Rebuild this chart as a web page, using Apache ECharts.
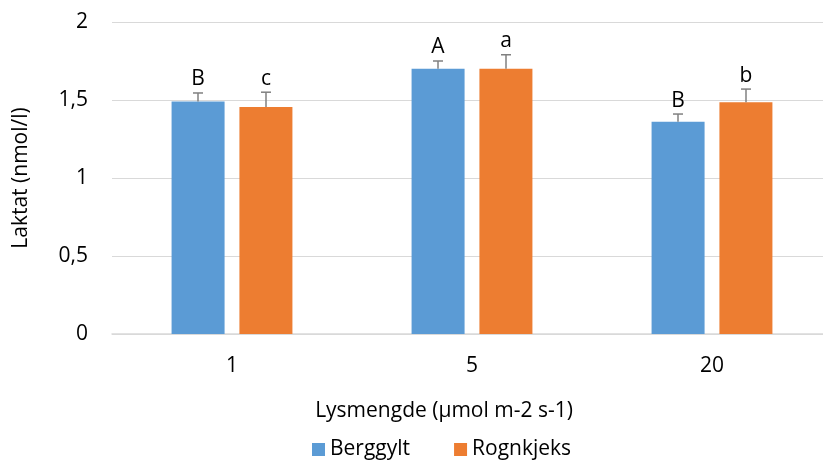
<!DOCTYPE html>
<html>
<head>
<meta charset="utf-8">
<script src="https://cdn.jsdelivr.net/npm/echarts@6/dist/echarts.min.js"></script>
<style>
  html, body { margin: 0; padding: 0; background: #fff; }
  #chart { width: 823px; height: 462px; }
</style>
</head>
<body>
<div id="chart"></div>
<script>
  // data
  var categories = ['1', '5', '20']
  var berggylt = [1.49, 1.70, 1.36]
  var rognkjeks = [1.455, 1.70, 1.485]
  var berggyltErr = [0.055, 0.05, 0.05]
  var rognkjeksErr = [0.095, 0.09, 0.085]
  var berggyltLetters = ['B', 'A', 'B']
  var rognkjeksLetters = ['c', 'a', 'b']
  var yTicks = [0, 0.5, 1, 1.5, 2]

  var font = '"Open Sans", sans-serif'
  var fs = 21
  var blue = '#5B9BD5'
  var orange = '#ED7D31'

  function errData(values, errs, letters) {
    return values.map(function (v, i) {
      return [i, v, errs[i], letters[i]]
    })
  }

  function letterFor(seriesIndex, i) {
    return seriesIndex === 2 ? berggyltLetters[i] : rognkjeksLetters[i]
  }

  // 误差线 + 字母
  function errRender(offset) {
    return function (params, api) {
      var idx = api.value(0)
      var v = api.value(1)
      var e = api.value(2)
      var letter = letterFor(params.seriesIndex, params.dataIndex)
      var base = api.coord([idx, v])
      var top = api.coord([idx, v + e])
      var x = base[0] + offset
      var style = { stroke: '#808080', lineWidth: 1.5 }
      return {
        type: 'group',
        children: [
          { type: 'line', shape: { x1: x, y1: base[1], x2: x, y2: top[1] }, style: style },
          { type: 'line', shape: { x1: x - 5, y1: top[1], x2: x + 5, y2: top[1] }, style: style },
          {
            type: 'text',
            x: x, y: top[1] - 3,
            style: {
              text: letter, fill: '#000', font: fs + 'px ' + font,
              textAlign: 'center', textVerticalAlign: 'bottom'
            }
          }
        ]
      }
    }
  }

  var chart = echarts.init(document.getElementById('chart'))
  var option = {
    animation: false,
    textStyle: { fontFamily: font },
    grid: { left: 112, top: 22, width: 720, height: 312, outerBoundsMode: 'none', containLabel: false },
    legend: {
      data: ['Berggylt', 'Rognkjeks'],
      left: 307, top: 434,
      itemWidth: 13, itemHeight: 13, itemGap: 44,
      icon: 'rect',
      textStyle: { fontSize: fs, color: '#000', fontFamily: font }
    },
    graphic: [{
      type: 'text',
      x: 444, y: 411,
      style: {
        text: 'Lysmengde (µmol m-2 s-1)', fill: '#000', font: fs + 'px ' + font,
        textAlign: 'center', textVerticalAlign: 'middle'
      }
    }],
    xAxis: {
      type: 'category',
      data: categories,
      axisLine: { lineStyle: { color: '#d9d9d9', width: 1.5 } },
      axisTick: { show: false },
      axisLabel: { color: '#000', fontSize: fs, margin: 22, fontFamily: font }
    },
    yAxis: {
      type: 'value',
      min: yTicks[0], max: yTicks[yTicks.length - 1], interval: 0.5,
      name: 'Laktat (nmol/l)',
      nameLocation: 'middle', nameGap: 80, nameRotate: 90,
      nameTextStyle: { color: '#000', fontSize: fs, fontFamily: font },
      axisLine: { show: false },
      axisTick: { show: false },
      splitLine: { lineStyle: { color: '#d9d9d9', width: 1.2 } },
      axisLabel: {
        color: '#000', fontSize: fs, margin: 24, fontFamily: font,
        formatter: function (v) { return String(v).replace('.', ',') }
      }
    },
    series: [
      {
        name: 'Berggylt', type: 'bar', data: berggylt,
        barWidth: 53, barGap: '28%',
        itemStyle: { color: blue }
      },
      {
        name: 'Rognkjeks', type: 'bar', data: rognkjeks,
        barWidth: 53,
        itemStyle: { color: orange }
      },
      {
        type: 'custom', name: 'errB', z: 5,
        data: errData(berggylt, berggyltErr, berggyltLetters),
        renderItem: errRender(-34),
        encode: { x: 0, y: 1 }
      },
      {
        type: 'custom', name: 'errR', z: 5,
        data: errData(rognkjeks, rognkjeksErr, rognkjeksLetters),
        renderItem: errRender(34),
        encode: { x: 0, y: 1 }
      }
    ]
  }
  chart.setOption(option)
</script>
</body>
</html>
